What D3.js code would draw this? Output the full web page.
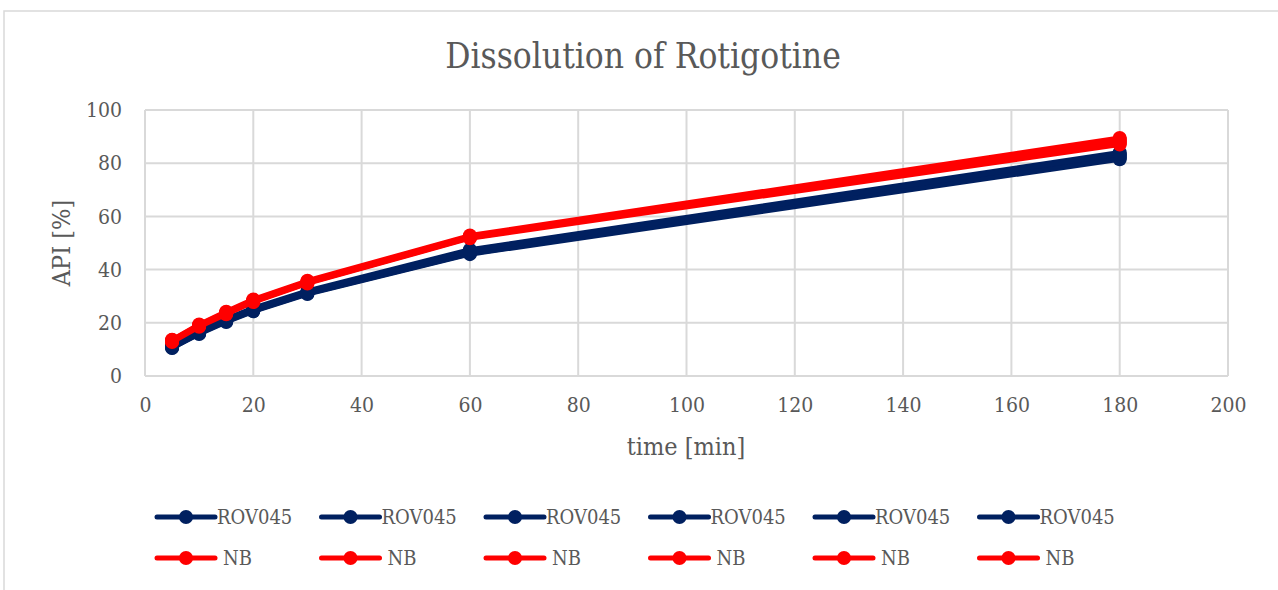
<!DOCTYPE html>
<html><head><meta charset="utf-8">
<script src="https://cdn.jsdelivr.net/npm/d3@7"></script>
<style>body{margin:0;background:#fff;}svg{display:block;}</style>
</head><body>
<svg id="c" width="1278" height="590"></svg>
<script>
const times = [5, 10, 15, 20, 30, 60, 180];
const rov1 = [10.5, 16.0, 20.5, 24.5, 31.0, 46.0, 82.0];
const rov2 = [11.2, 16.5, 21.0, 25.0, 31.5, 47.0, 83.0];
const rov3 = [10.8, 16.2, 20.8, 24.8, 31.2, 46.5, 82.5];
const rov4 = [11.5, 17.0, 21.5, 25.5, 32.0, 47.5, 84.0];
const rov5 = [10.6, 15.8, 20.3, 24.3, 30.8, 45.8, 81.5];
const rov6 = [11.0, 16.6, 21.2, 25.2, 31.6, 47.2, 83.5];
const nb1 = [13.0, 18.8, 23.5, 28.0, 35.0, 52.0, 88.0];
const nb2 = [13.5, 19.2, 24.0, 28.5, 35.5, 52.5, 89.0];
const nb3 = [12.8, 18.5, 23.2, 27.8, 34.8, 51.8, 87.0];
const nb4 = [13.2, 19.0, 23.8, 28.3, 35.3, 52.3, 88.5];
const nb5 = [13.6, 19.4, 24.2, 28.8, 35.8, 52.8, 89.5];
const nb6 = [13.1, 18.9, 23.6, 28.1, 35.1, 52.2, 87.5];
const rovSeries = [rov1, rov2, rov3, rov4, rov5, rov6];
const nbSeries = [nb1, nb2, nb3, nb4, nb5, nb6];
const xTicks = [0, 20, 40, 60, 80, 100, 120, 140, 160, 180, 200];
const yTicks = [0, 20, 40, 60, 80, 100];
const NAVY = "#002060", RED = "#ff0000";
const series = [
  ...rovSeries.map(v => ({name: "ROV045", values: v, color: NAVY})),
  ...nbSeries.map(v => ({name: "NB", values: v, color: RED}))
];

const svg = d3.select("#c");
const font = "'DejaVu Serif Condensed','Liberation Serif',serif";
const textCol = "#595959";
const grid = "#d9d9d9";

// outer chart border
svg.append("rect").attr("x", 4).attr("y", 11).attr("width", 1290).attr("height", 590)
  .attr("fill", "#fff").attr("stroke", grid).attr("stroke-width", 1.5);

const L = 145, R = 1228, T = 110, B = 376;
const x = d3.scaleLinear().domain([0, 200]).range([L, R]);
const y = d3.scaleLinear().domain([0, 100]).range([B, T]);

// grid
const g = svg.append("g");
g.selectAll(".vg").data(xTicks).join("line")
  .attr("x1", d => x(d)).attr("x2", d => x(d)).attr("y1", T).attr("y2", B)
  .attr("stroke", grid).attr("stroke-width", 2);
g.selectAll(".hg").data(yTicks).join("line")
  .attr("x1", L).attr("x2", R).attr("y1", d => y(d)).attr("y2", d => y(d))
  .attr("stroke", grid).attr("stroke-width", 2);

// axes (labels only)
const xa = svg.append("g").attr("transform", `translate(0,${B})`)
  .call(d3.axisBottom(x).tickValues(xTicks).tickSize(0).tickPadding(21));
xa.select(".domain").remove();
xa.selectAll("text").attr("font-family", font).attr("font-size", 21).attr("fill", textCol);
const ya = svg.append("g").attr("transform", `translate(${L},0)`)
  .call(d3.axisLeft(y).tickValues(yTicks).tickSize(0).tickPadding(23));
ya.select(".domain").remove();
ya.selectAll("text").attr("font-family", font).attr("font-size", 21).attr("fill", textCol);

// title & axis titles
svg.append("text").attr("x", 643).attr("y", 68).attr("text-anchor", "middle")
  .attr("font-family", font).attr("font-size", 35).attr("fill", textCol).text("Dissolution of Rotigotine");
svg.append("text").attr("x", 686).attr("y", 455).attr("text-anchor", "middle")
  .attr("font-family", font).attr("font-size", 25).attr("fill", textCol).text("time [min]");
svg.append("text").attr("transform", "translate(70,243) rotate(-90)").attr("text-anchor", "middle")
  .attr("font-family", font).attr("font-size", 25).attr("fill", textCol).text("API [%]");

// lines
const line = d3.line().x((d, i) => x(times[i])).y(d => y(d));
series.forEach(s => {
  const sg = svg.append("g");
  sg.append("path").attr("d", line(s.values)).attr("fill", "none")
    .attr("stroke", s.color).attr("stroke-width", 5).attr("stroke-linejoin", "round");
  sg.selectAll("circle").data(s.values).join("circle")
    .attr("cx", (d, i) => x(times[i])).attr("cy", d => y(d)).attr("r", 7).attr("fill", s.color);
});

// legend
const leg = svg.append("g");
series.forEach((s, k) => {
  const row = k < 6 ? 0 : 1;
  const col = k % 6;
  const lx = 157 + col * 164.5;
  const ly = row === 0 ? 517 : 558;
  const e = leg.append("g").attr("transform", `translate(${lx},${ly})`);
  e.append("line").attr("x1", 0).attr("x2", 58).attr("y1", 0).attr("y2", 0)
    .attr("stroke", s.color).attr("stroke-width", 5).attr("stroke-linecap", "round");
  e.append("circle").attr("cx", 29).attr("cy", 0).attr("r", 7).attr("fill", s.color);
  e.append("text").attr("x", row === 0 ? 60 : 66).attr("y", 7)
    .attr("font-family", font).attr("font-size", 20).attr("fill", textCol).text(s.name);
});
</script>
</body></html>
